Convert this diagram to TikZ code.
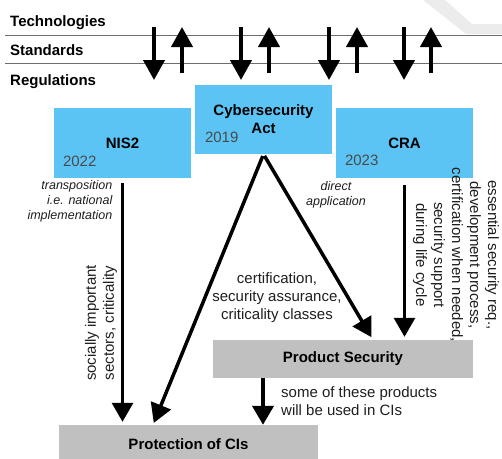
\documentclass[tikz,border=0pt]{standalone}
\usepackage{fontspec}
\setmainfont{Liberation Sans}
\usetikzlibrary{arrows.meta,calc}
\definecolor{actblue}{HTML}{5BC4F5}
\definecolor{areagray}{HTML}{C0C0C0}
\definecolor{yeargray}{HTML}{4A4A4A}
\definecolor{rulegray}{HTML}{6E6E6E}
\definecolor{markgray}{HTML}{ECECEC}
\definecolor{inkgray}{HTML}{1E1E1E}

\begin{document}
\begin{tikzpicture}[x=1pt,y=-1pt,
  lawbox/.style={fill=actblue, minimum width=137pt, minimum height=70pt, inner sep=0pt,
    font=\fontsize{15}{18}\selectfont\bfseries, align=center},
  areabox/.style={fill=areagray, minimum height=38pt, inner sep=0pt,
    font=\fontsize{15}{18}\selectfont\bfseries},
  yearlbl/.style={anchor=west, inner sep=0pt, text=yeargray, font=\fontsize{15}{18}\selectfont},
  layerlbl/.style={anchor=base west, inner sep=0pt, font=\fontsize{15}{18}\selectfont\bfseries},
  notelbl/.style={inner sep=0pt, text=inkgray, font=\fontsize{12.5}{15}\selectfont\itshape},
  bodylbl/.style={inner sep=0pt, text=inkgray, font=\fontsize{15}{18}\selectfont},
  flow/.style={-{Triangle[length=19pt,width=21pt]}, line width=3.5pt},
  sync/.style={-{Triangle[length=20pt,width=21pt]}, line width=4pt},
]
\useasboundingbox (0,0) rectangle (502,458);

% faint mark in the corner
\fill[markgray] (423,0) -- (445,0) -- (472,24) -- (502,24) -- (502,34) -- (466,34) -- cycle;

% layer rules and labels
\draw[rulegray, line width=1pt] (5,35) -- (502,35);
\draw[rulegray, line width=1pt] (5,63.5) -- (502,63.5);
\node[layerlbl] (tech) at (10,26) {Technologies};
\node[layerlbl] (std) at (10,55) {Standards};
\node[layerlbl] (reg) at (10,85) {Regulations};

% exchange between the layers
\foreach \i/\xd/\xu in {1/154/182, 2/241/269, 3/329/357, 4/404/431} {
  \coordinate (dtop\i) at (\xd,27);
  \coordinate (dbot\i) at (\xd,80);
  \coordinate (ubot\i) at (\xu,73);
  \coordinate (utop\i) at (\xu,27);
  \draw[sync] (dtop\i) -- (dbot\i);
  \draw[sync] (ubot\i) -- (utop\i);
}

% legal acts
\node[lawbox] (nis) at (122.5,143) {NIS2};
\node[lawbox, minimum height=69pt] (csa) at (263.5,119.5) {Cybersecurity\\Act};
\node[lawbox] (cra) at (404.5,143) {CRA};
\node[yearlbl] (nisy) at ([xshift=9pt,yshift=-18pt]nis.west) {2022};
\node[yearlbl] (csay) at ([xshift=10pt,yshift=-18pt]csa.west) {2019};
\node[yearlbl] (cray) at ([xshift=9pt,yshift=-17pt]cra.west) {2023};

% areas of protection
\node[areabox, minimum width=260pt] (prod) at (343,359) {Product Security};
\node[areabox, minimum width=259pt] (prot) at (188.5,444) {Protection of CIs};

% connectors
\draw[flow, line width=3pt, shorten <=5pt, shorten >=3pt] (nis.south) -- (nis.south |- prot.north);
\draw[flow, shorten <=2pt, shorten >=2pt] (csa.south) -- ([xshift=-35.5pt]prot.north);
\draw[flow, shorten <=2pt, shorten >=3pt] (csa.south) -- ([xshift=30pt]prod.north);
\draw[flow, line width=3pt, shorten <=7pt, shorten >=3pt] (cra.south) -- (cra.south |- prod.north);
\draw[flow, line width=4pt] ([xshift=-80pt]prod.south) -- ([xshift=-80pt]prod.south |- prot.north);

% labels
\node[notelbl, align=right, anchor=east] (transp) at (112.5,201) {transposition\\i.e. national\\implementation};
\node[notelbl, align=center] (direct) at (336,195) {direct\\application};
\node[bodylbl, rotate=90, align=center] (sectors) at (101,323) {socially important\\sectors, criticality};
\node[bodylbl, rotate=-90, align=center] (essreq) at (456,255) {essential security req.,\\development process,\\certification when needed,\\security support\\during life cycle};
\node[bodylbl, align=center] (cert) at (277,297.5) {certification,\\security assurance,\\criticality classes};
\node[bodylbl, align=left, anchor=west] (used) at (281,401.5) {some of these products\\will be used in CIs};
\end{tikzpicture}
\end{document}
